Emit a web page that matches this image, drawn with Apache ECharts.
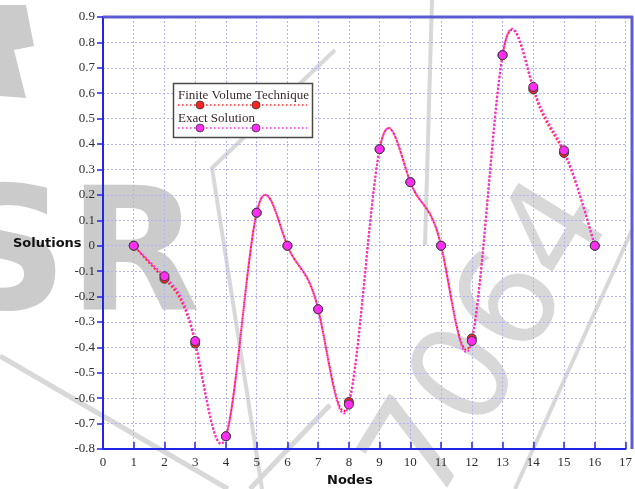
<!DOCTYPE html>
<html>
<head>
<meta charset="utf-8">
<script src="https://cdn.jsdelivr.net/npm/echarts@6/dist/echarts.min.js"></script>
<style>
  html, body { margin: 0; padding: 0; background: #ffffff; }
  #chart { width: 635px; height: 489px; }
</style>
</head>
<body>
<div id="chart"></div>
<script>
// Node indices and the two solution profiles
const nodes = [1, 2, 3, 4, 5, 6, 7, 8, 9, 10, 11, 12, 13, 14, 15, 16];
const finiteVolume = [0, -0.13, -0.385, -0.75, 0.13, 0, -0.25, -0.615, 0.38, 0.25, 0, -0.365, 0.75, 0.615, 0.365, 0];
const exactSolution = [0, -0.12, -0.375, -0.75, 0.13, 0, -0.25, -0.625, 0.38, 0.25, 0, -0.375, 0.75, 0.625, 0.375, 0];
const seriesNames = ['Finite Volume Technique', 'Exact Solution'];
const xTicks = [0, 17, 1];
const yTicks = [-0.8, 0.9, 0.1];

const RED = '#ff2424';
const MAGENTA = '#ff2cf4';
const SERIF = '"Liberation Serif", "DejaVu Serif", serif';
const SANS = '"DejaVu Sans", sans-serif';

const chart = echarts.init(document.getElementById('chart'), null, { renderer: 'canvas' });

function pairs(xs, ys) {
  return xs.map((x, i) => [x, ys[i]]);
}

// Slopes of a natural cubic spline through screen points (Thomas algorithm)
function splineSlopes(pts) {
  const n = pts.length;
  const a = new Array(n), b = new Array(n), c = new Array(n), d = new Array(n);
  for (let i = 0; i < n; i++) {
    if (i === 0) {
      const h = pts[1][0] - pts[0][0];
      a[i] = 0; b[i] = 2 / h; c[i] = 1 / h;
      d[i] = 3 * (pts[1][1] - pts[0][1]) / (h * h);
    } else if (i === n - 1) {
      const h = pts[i][0] - pts[i - 1][0];
      a[i] = 1 / h; b[i] = 2 / h; c[i] = 0;
      d[i] = 3 * (pts[i][1] - pts[i - 1][1]) / (h * h);
    } else {
      const h0 = pts[i][0] - pts[i - 1][0];
      const h1 = pts[i + 1][0] - pts[i][0];
      a[i] = 1 / h0; b[i] = 2 / h0 + 2 / h1; c[i] = 1 / h1;
      d[i] = 3 * ((pts[i][1] - pts[i - 1][1]) / (h0 * h0) + (pts[i + 1][1] - pts[i][1]) / (h1 * h1));
    }
  }
  for (let i = 1; i < n; i++) {
    const w = a[i] / b[i - 1];
    b[i] -= w * c[i - 1];
    d[i] -= w * d[i - 1];
  }
  const m = new Array(n);
  m[n - 1] = d[n - 1] / b[n - 1];
  for (let i = n - 2; i >= 0; i--) m[i] = (d[i] - c[i] * m[i + 1]) / b[i];
  return m;
}

// Smooth curve: one cubic Bezier segment per pair of neighbouring nodes
function curveSeries(name, ys, color, dashOffset, z) {
  return {
    name: name,
    type: 'custom',
    data: pairs(nodes, ys),
    encode: { x: 0, y: 1 },
    clip: true,
    z: z,
    silent: true,
    renderItem: function (params, api) {
      const i = params.dataIndex;
      if (i >= nodes.length - 1) return null;
      const pts = nodes.map((x, j) => api.coord([x, ys[j]]));
      const m = splineSlopes(pts);
      const p0 = pts[i], p1 = pts[i + 1];
      const h = (p1[0] - p0[0]) / 3;
      return {
        type: 'bezierCurve',
        shape: {
          x1: p0[0], y1: p0[1], x2: p1[0], y2: p1[1],
          cpx1: p0[0] + h, cpy1: p0[1] + m[i] * h,
          cpx2: p1[0] - h, cpy2: p1[1] - m[i + 1] * h
        },
        style: { stroke: color, fill: null, lineWidth: 2, lineDash: [2, 2], lineDashOffset: dashOffset }
      };
    }
  };
}

function markerSeries(name, ys, color, z) {
  return {
    name: name,
    type: 'scatter',
    data: pairs(nodes, ys),
    z: z,
    symbol: 'circle',
    symbolSize: 9,
    itemStyle: { color: color, borderColor: '#3a3a3a', borderWidth: 1, opacity: 1 },
    emphasis: { disabled: true },
    silent: true
  };
}

// Legend panel drawn as graphic elements: label above a dotted sample with two markers
function legendEntry(label, color, top) {
  return [
    { type: 'text', left: 178, top: top, z: 100,
      style: { text: label, font: '13px ' + SERIF, fill: '#3b2b2b' } },
    { type: 'line', z: 100,
      shape: { x1: 178, y1: top + 16, x2: 307, y2: top + 16 },
      style: { stroke: color, lineWidth: 1.5, lineDash: [1.5, 2.5] } },
    { type: 'circle', z: 101, shape: { cx: 200, cy: top + 16, r: 4 },
      style: { fill: color, stroke: '#3a3a3a', lineWidth: 0.8 } },
    { type: 'circle', z: 101, shape: { cx: 256, cy: top + 16, r: 4 },
      style: { fill: color, stroke: '#3a3a3a', lineWidth: 0.8 } }
  ];
}

const STAMP = '#d8d8d8';
function stampLine(points, width) {
  return { type: 'polyline', z: -10, silent: true,
           shape: { points: points },
           style: { stroke: STAMP, lineWidth: width, fill: null } };
}

const gridLine = { show: true, lineStyle: { color: '#b2b2f4', width: 1, type: [2, 2] } };

const option = {
  backgroundColor: '#ffffff',
  animation: false,
  grid: { left: 103, right: 4, top: 17, bottom: 40, containLabel: false },
  xAxis: {
    type: 'value',
    min: xTicks[0], max: xTicks[1], interval: xTicks[2],
    axisLine: { show: true, onZero: false, lineStyle: { color: '#2424e6', width: 2 } },
    axisTick: { show: true, inside: true, length: 7, lineStyle: { color: '#2424e6', width: 1.5 } },
    axisLabel: { color: '#2e2e2e', fontFamily: SERIF, fontSize: 13, margin: 7 },
    splitLine: gridLine
  },
  yAxis: {
    type: 'value',
    min: yTicks[0], max: yTicks[1], interval: yTicks[2],
    axisLine: { show: true, onZero: false, lineStyle: { color: '#2424e6', width: 2 } },
    axisTick: { show: true, inside: false, length: 6, lineStyle: { color: '#2424e6', width: 1.5 } },
    axisLabel: { color: '#2e2e2e', fontFamily: SERIF, fontSize: 13, margin: 8,
                 formatter: v => (Math.round(v * 10) / 10).toString() },
    splitLine: gridLine
  },
  series: [
    curveSeries(seriesNames[0], finiteVolume, RED, 2, 3),
    curveSeries(seriesNames[1], exactSolution, MAGENTA, 0, 4),
    markerSeries(seriesNames[0], finiteVolume, RED, 5),
    markerSeries(seriesNames[1], exactSolution, MAGENTA, 6)
  ],
  graphic: [
    // faint background stamp
    { type: 'text', z: -10, silent: true, x: 494, y: 344, rotation: 1.02,
      style: { text: '7064', font: '135px ' + SANS, fill: STAMP,
               align: 'center', verticalAlign: 'middle' } },
    { type: 'text', z: -10, silent: true, x: -56, y: 178,
      style: { text: 'SR', font: 'bold 172px ' + SANS, fill: '#cbcbcb' } },
    { type: 'polygon', z: -10, silent: true,
      shape: { points: [[0, 5], [26, 5], [34, 46], [14, 50], [26, 98], [0, 96]] },
      style: { fill: '#cbcbcb' } },
    stampLine([[0, 356], [228, 489]], 5),
    stampLine([[335, 50], [212, 168], [262, 489]], 4),
    stampLine([[250, 489], [330, 405]], 5),
    stampLine([[432, 0], [425, 245]], 4),
    stampLine([[632, 230], [515, 489]], 4),
    // axis captions
    { type: 'text', left: 13, top: 237, z: 50,
      style: { text: 'Solutions', font: 'bold 13px ' + SANS, fill: '#111' } },
    { type: 'text', left: 327, top: 474, z: 50,
      style: { text: 'Nodes', font: 'bold 13px ' + SANS, fill: '#111' } },
    // top and right frame
    { type: 'line', z: 60, shape: { x1: 103, y1: 17, x2: 633, y2: 17 },
      style: { stroke: '#5c5cd0', lineWidth: 3 } },
    { type: 'line', z: 60, shape: { x1: 632, y1: 16, x2: 632, y2: 449 },
      style: { stroke: '#5c5cd0', lineWidth: 3 } },
    // legend panel
    { type: 'rect', z: 99, shape: { x: 173.5, y: 83.5, width: 139, height: 54 },
      style: { fill: '#ffffff', stroke: '#4a4a4a', lineWidth: 1.5 } }
  ].concat(legendEntry(seriesNames[0], RED, 89))
   .concat(legendEntry(seriesNames[1], MAGENTA, 112))
};

chart.setOption(option);
</script>
</body>
</html>
